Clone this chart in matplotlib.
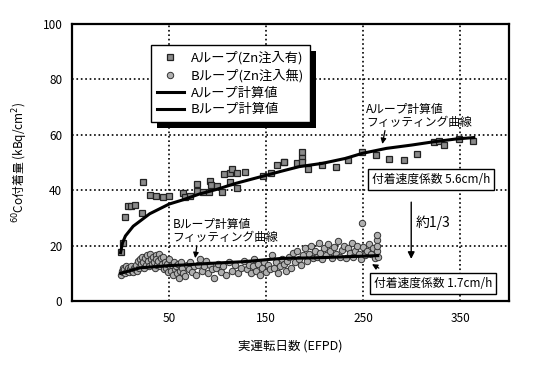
import matplotlib
matplotlib.use('Agg')
import matplotlib.pyplot as plt
from matplotlib.patches import Rectangle

plt.rcParams['font.family'] = ['Noto Sans CJK JP', 'DejaVu Sans']

# Aループ測定値 (Zn注入有)
a_days = [0.1, 2.5, 4.9, 7.4, 11.1, 15.2, 22.1, 23.1, 30.3, 36.2, 43.4, 49.9,
          64.2, 66.6, 71.4, 78.4, 79, 84.5, 90.7, 92, 93, 99.5, 105, 106.7,
          112.9, 112.9, 115.3, 120, 120, 128.7, 146.8, 154.7, 161.6, 168, 168.9,
          182, 186.7, 186.7, 186.7, 193.6, 208, 221.6, 234.7, 249, 262.8, 277,
          291.6, 305, 323, 328, 333, 348.5, 363.6]
a_vals = [17.6, 21, 30.4, 34.4, 34.3, 34.5, 31.9, 43, 38.3, 37.8, 37.4, 37.8,
          39.1, 37.7, 37.9, 42.1, 39.7, 39.2, 39.5, 43.4, 41.8, 41.6, 39.5, 45.7,
          42.8, 46.2, 47.8, 46.3, 40.8, 46.7, 45.2, 46.3, 49.1, 50.1, 50.3,
          49.7, 53.7, 51.8, 50.1, 47.8, 49, 48.5, 50.9, 53.7, 52.7, 51.3,
          50.9, 53, 57.5, 57.7, 56.2, 58.4, 57.7]

# Bループ測定値 (Zn注入無)
b_days = [0, 1, 2, 3, 4, 5, 6, 7, 8, 9, 10, 11, 12, 13, 14, 15, 16, 17, 18, 19, 20,
          21, 22, 23, 24, 25, 26, 27, 28, 29, 30, 31, 32, 33, 34, 35, 36, 37, 38, 39,
          40, 41, 42, 43, 44, 45,
          46, 47, 48, 49, 50, 51, 52, 53, 54, 55, 56, 57, 58, 59, 60, 61, 62, 63, 64,
          66, 68, 70, 72, 74, 76, 78, 80,
          82, 84, 86, 88, 90, 92, 94, 96, 98, 100, 103, 106, 109, 112, 115, 118, 121,
          124, 127, 130,
          132, 134, 136, 138, 140, 142, 144, 146, 148, 150, 152, 154, 156, 158, 160,
          162, 164, 166, 168, 170, 172, 174, 176, 178, 180,
          182, 184, 186, 188, 190, 192, 194, 196, 198, 200, 202, 204, 206, 208, 210,
          212, 214, 216, 218, 220, 222, 224, 226, 228, 230, 232, 234, 236, 238, 240,
          242, 244, 246, 248, 249, 250, 252, 254, 256, 258, 260, 262, 264, 264, 264,
          264, 265]
b_vals = [9.5, 11, 10.5, 12, 11.5, 10, 12.5, 11, 12, 10.5, 11.5, 12.5, 11, 10.5, 12,
          11.5, 13, 11, 14.5, 12, 15,
          13.5, 16, 14, 12, 15.5, 13, 16.5, 14.5, 12.5, 17, 15, 13.5, 16, 14, 12, 16.5,
          15, 13, 14.5, 17, 12.5, 15.5, 13.5, 16, 11.5,
          14, 12, 13.5, 10.5, 15, 12.5, 11, 13, 9.5, 14, 11.5, 12.5, 10, 13.5, 8.5, 11,
          14, 12, 10, 9, 13, 11.5, 14, 10.5, 12.5, 9.5, 13,
          15, 11, 12.5, 14.5, 10, 13, 11.5, 8.5, 12, 13.5, 10.5, 12.5, 9.5, 14, 11, 13,
          10, 12, 14.5, 11.5,
          13, 10, 12.5, 15, 11, 13.5, 9.5, 12, 14, 10.5, 13, 11.5, 16.5, 12, 14, 10,
          12.5, 15, 13.5, 11, 14.5, 16, 12, 17.5, 14,
          18, 15, 13, 16.5, 19, 14.5, 17, 20, 15.5, 18, 16, 21, 17.5, 15, 19, 16.5,
          20.5, 18, 15.5, 19.5, 17, 21.5, 16, 18.5, 20, 15.5, 19, 17.5, 21, 16, 18,
          20, 17, 15, 28, 19.5, 16.5, 18, 20.5, 17, 19, 15.5, 22, 24, 18, 20, 16]

# 計算値 (フィッティング曲線)
a_fit_days = [0, 2, 5, 13, 30, 50, 64, 81, 99, 119, 147, 164, 184, 208, 232, 249,
              274, 300, 323, 346, 364]
a_fit_vals = [17.5, 21, 23.5, 27, 31.5, 35, 36.5, 38.6, 40.3, 42.5, 45.1, 46.7,
              48.5, 49.7, 51.5, 53.3, 55.1, 56.3, 57.5, 58.5, 59]
b_fit_days = [0, 20, 50, 64, 92, 126, 166, 200, 233, 265]
b_fit_vals = [10, 12, 12.8, 13, 13.6, 14.2, 15.4, 15.6, 16, 16.4]

x_ticks = [50, 150, 250, 350]
y_ticks = [0, 20, 40, 60, 80, 100]

fig, ax = plt.subplots(figsize=(5.5, 3.74), dpi=100)
fig.subplots_adjust(left=0.131, right=0.925, bottom=0.195, top=0.936)

ax.plot(a_days, a_vals, 's', ms=4.4, mfc='#8a8a8a', mec='#222222', mew=0.9,
        label='Aループ(Zn注入有)', zorder=3)
ax.plot(b_days, b_vals, 'o', ms=4.6, mfc='#b0b0b0', mec='#333333', mew=0.7,
        label='Bループ(Zn注入無)', zorder=3)
ax.plot(a_fit_days, a_fit_vals, '-', color='black', lw=2.2, label='Aループ計算値', zorder=4)
ax.plot(b_fit_days, b_fit_vals, '-', color='black', lw=2.2, label='Bループ計算値', zorder=4)

ax.set_xlim(-50, 400)
ax.set_ylim(0, 100)
ax.set_xticks(x_ticks)
ax.set_yticks(y_ticks)
ax.tick_params(length=0, labelsize=8.5)
ax.tick_params(axis='y', pad=7)
ax.tick_params(axis='x', pad=8)
for s in ax.spines.values():
    s.set_linewidth(1.6)

for x in x_ticks:
    ax.axvline(x, color='black', ls=':', lw=1.2, zorder=1)
for y in y_ticks[1:-1]:
    ax.axhline(y, color='black', ls=':', lw=1.2, zorder=1)

ax.set_xlabel('実運転日数 (EFPD)', fontsize=9, labelpad=10)
ax.set_ylabel('$^{60}$Co付着量 (kBq/cm$^2$)', fontsize=8.5, labelpad=9)

leg = ax.legend(loc='upper left', bbox_to_anchor=(0.18, 0.923), borderaxespad=0,
                fancybox=False, edgecolor='black', framealpha=1, fontsize=9.5,
                handlelength=2.1, handletextpad=0.5, labelspacing=0.3, borderpad=0.45)
leg.get_frame().set_linewidth(1)
leg.set_zorder(6)

# 注記
ax.text(253, 71.4, 'Aループ計算値\nフィッティング曲線', fontsize=8.5, ha='left', va='top',
        linespacing=0.95, zorder=5)
ax.annotate('', xy=(269.2, 55.7), xytext=(273, 62.5),
            arrowprops=dict(arrowstyle='-|>', color='black', lw=0.9, mutation_scale=8), zorder=5)
ax.text(53.6, 29.9, 'Bループ計算値\nフィッティング曲線', fontsize=8.5, ha='left', va='top',
        linespacing=0.95, zorder=5)
ax.annotate('', xy=(76.5, 14.5), xytext=(78.9, 20.8),
            arrowprops=dict(arrowstyle='-|>', color='black', lw=0.9, mutation_scale=8), zorder=5)
ax.annotate('', xy=(256.6, 13.8), xytext=(268.6, 11.4),
            arrowprops=dict(arrowstyle='-|>', color='black', lw=0.9, mutation_scale=8), zorder=5)

box = dict(boxstyle='square,pad=0.35', fc='white', ec='black', lw=1)
ax.text(320, 43.9, '付着速度係数 5.6cm/h', fontsize=8.5, ha='center', va='center',
        bbox=box, zorder=5)
ax.text(322, 6.3, '付着速度係数 1.7cm/h', fontsize=8.5, ha='center', va='center',
        bbox=box, zorder=5)

ax.annotate('', xy=(299.5, 14.2), xytext=(299.5, 36.7),
            arrowprops=dict(arrowstyle='-|>', color='black', lw=1, mutation_scale=10), zorder=5)
ax.text(304.5, 28.4, '約1/3', fontsize=10, ha='left', va='center', zorder=5)

# 凡例の影 (凡例の下に描く)
fig.canvas.draw()
bb = leg.get_window_extent().transformed(fig.transFigure.inverted())
dx, dy = 6 / 550, 6 / 374
ax.add_artist(Rectangle((bb.x0 + dx, bb.y0 - dy), bb.width, bb.height,
                        transform=fig.transFigure, fc='black', ec='none',
                        zorder=5.5, clip_on=False))

fig.savefig('out.png', dpi=100)
